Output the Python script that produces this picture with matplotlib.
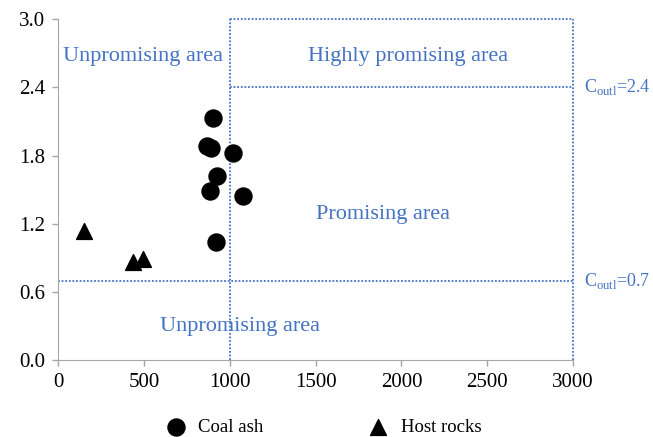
import numpy as np
import matplotlib.pyplot as plt

plt.rcParams['font.family'] = ['Liberation Serif', 'DejaVu Serif']

# coal ash samples
ash_x = [903, 866, 889, 1019, 926, 885, 1077, 920]
ash_y = [2.13, 1.88, 1.87, 1.82, 1.62, 1.49, 1.44, 1.04]
# host rock samples
rock_x = [151, 437, 495]
rock_y = [1.14, 0.86, 0.89]

c_low = 0.7
c_high = 2.4
x_cut = 1000
x_max = 3000
y_max = 3.0

blue = '#4472C4'
grey = '#A6A6A6'

fig = plt.figure(figsize=(6.53, 4.37), dpi=100)
ax = fig.add_axes([0.0888, 0.176, 0.789, 0.780])

ls = dict(color=blue, linestyle=(0, (1, 1)), linewidth=1.3, clip_on=False, zorder=1)
ax.plot([x_cut, x_cut], [0, y_max], **ls)
ax.plot([x_max, x_max], [0, y_max], **ls)
ax.plot([x_cut, x_max], [y_max, y_max], **ls)
ax.plot([x_cut, x_max], [c_high, c_high], **ls)
ax.plot([0, x_max], [c_low, c_low], **ls)

ax.scatter(ash_x, ash_y, s=150, marker='o', color='black', zorder=3, label='Coal ash')
ax.scatter(rock_x, rock_y, s=130, marker='^', color='black', zorder=3, label='Host rocks')

fs = 16
ax.text(495, 2.67, 'Unpromising area', color=blue, fontsize=fs, ha='center', va='center')
ax.text(2040, 2.67, 'Highly promising area', color=blue, fontsize=fs, ha='center', va='center')
ax.text(1890, 1.28, 'Promising area', color=blue, fontsize=fs, ha='center', va='center')
ax.text(1060, 0.30, 'Unpromising area', color=blue, fontsize=fs, ha='center', va='center')
ax.text(3060, c_high, r'C$_{\mathregular{outl}}$=2.4', color=blue, fontsize=13, ha='left', va='center')
ax.text(3060, c_low, r'C$_{\mathregular{outl}}$=0.7', color=blue, fontsize=13, ha='left', va='center')

ax.set_xlim(0, x_max)
ax.set_ylim(0, y_max)
ax.set_xticks(np.arange(0, 3001, 500))
ax.set_yticks(np.arange(0, 3.01, 0.6))
ax.set_yticklabels(['%.1f' % v for v in np.arange(0, 3.01, 0.6)])

for side in ['top', 'right']:
    ax.spines[side].set_visible(False)
for side in ['left', 'bottom']:
    ax.spines[side].set_color(grey)
ax.tick_params(colors=grey, labelcolor='black', labelsize=15, length=4, width=1, pad=5)

fig.legend(loc='center', bbox_to_anchor=(0.496, 0.022), ncol=2, frameon=False,
           fontsize=13.5, columnspacing=5.6, handlelength=1, handletextpad=0.7)

fig.savefig('out.png', dpi=100)
